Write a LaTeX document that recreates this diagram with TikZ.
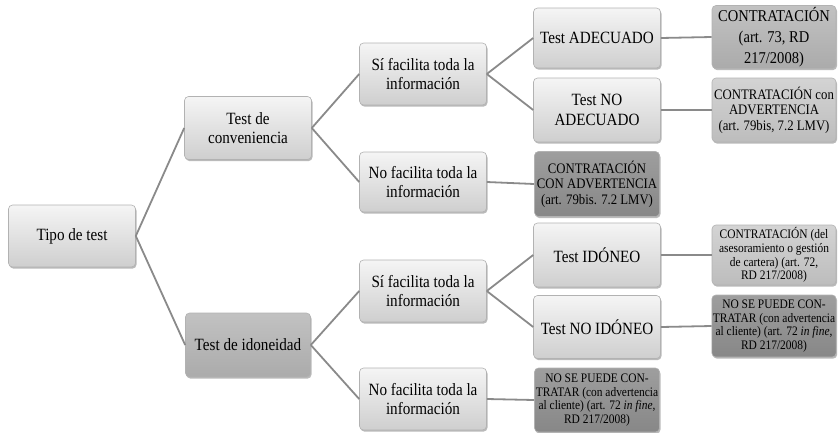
\documentclass[tikz,border=0pt]{standalone}
\usepackage{fontspec}
\setmainfont{Liberation Serif}[FakeStretch=0.88]
\usepackage{tikz}
\usetikzlibrary{shadows, positioning}
\definecolor{linkgray}{HTML}{8A8A8A}
\tikzstyle{basebox} = [rectangle, rounded corners=4pt, align=center, inner sep=1pt, minimum width=127pt, minimum height=62pt, draw=black!30, line width=0.6pt, drop shadow={shadow xshift=1pt, shadow yshift=-1.6pt, fill=black!45, opacity=0.6}, font=\fontsize{17.2}{19.5}\selectfont]
\tikzstyle{lightbox} = [basebox, top color=black!4, bottom color=black!19]
\tikzstyle{midbox} = [basebox, top color=black!24, bottom color=black!33]
\tikzstyle{softbox} = [basebox, top color=black!17, bottom color=black!26]
\tikzstyle{darkbox} = [basebox, top color=black!38, bottom color=black!47]
\tikzstyle{link} = [linkgray, line width=1.8pt]
\newcommand{\smalltxt}{\fontsize{13}{13.8}\selectfont}
\newcommand{\midtxt}{\fontsize{14.5}{15.5}\selectfont}

\begin{document}
\begin{tikzpicture}[x=1pt, y=-1pt]
        \useasboundingbox (0,0) rectangle (838,432);
        % Nodes
        \node [lightbox] (tipo) at (72,236) {Tipo de test};
        \node [lightbox, minimum height=63pt] (conv) at (248,128) {Test de\\conveniencia};
        \node [midbox, minimum width=125pt, minimum height=64pt] (idon) at (248,345) {Test de idoneidad};

        \node [lightbox] (si_conv) at (423,74) {Sí facilita toda la\\información};
        \node [lightbox, minimum height=60pt] (no_conv) at (423,182) {No facilita toda la\\información};
        \node [lightbox] (si_idon) at (423,291) {Sí facilita toda la\\información};
        \node [lightbox] (no_idon) at (423,399) {No facilita toda la\\información};

        \node [lightbox, minimum height=60pt] (adec) at (597,38) {Test ADECUADO};
        \node [lightbox, minimum height=64pt] (no_adec) at (597,110) {Test NO\\ADECUADO};
        \node [darkbox, minimum width=125pt, minimum height=65pt, font=\midtxt] (con_adv) at (597,184) {CONTRATACIÓN\\CON ADVERTENCIA\\(art. 79bis. 7.2 LMV)};
        \node [lightbox, minimum height=64pt] (idoneo) at (597,255) {Test IDÓNEO};
        \node [lightbox, minimum height=63pt] (no_idoneo) at (597,327) {Test NO IDÓNEO};
        \node [darkbox, minimum width=125pt, minimum height=64pt, font=\smalltxt] (no_puede) at (597,400) {NO SE PUEDE CON-\\TRATAR (con advertencia\\al cliente) (art. 72 \textit{in fine},\\RD 217/2008)};

        \node [midbox, minimum width=124pt, minimum height=63pt, font=\fontsize{16.5}{21}\selectfont] (contr73) at (774,37) {CONTRATACIÓN\\(art. 73, RD\\217/2008)};
        \node [softbox, minimum width=124pt, minimum height=64pt, font=\midtxt] (contr_adv) at (774,110) {CONTRATACIÓN con\\ADVERTENCIA\\(art. 79bis, 7.2 LMV)};
        \node [softbox, minimum width=124pt, minimum height=60pt, font=\smalltxt] (contr72) at (774,255) {CONTRATACIÓN (del\\asesoramiento o gestión\\de cartera) (art. 72,\\RD 217/2008)};
        \node [darkbox, minimum width=124pt, minimum height=62pt, font=\smalltxt] (no_puede2) at (774,326) {NO SE PUEDE CON-\\TRATAR (con advertencia\\al cliente) (art. 72 \textit{in fine},\\RD 217/2008)};

        % Connectors
        \draw [link] (tipo.east) -- (conv.west);
        \draw [link] (tipo.east) -- (idon.west);
        \draw [link] (conv.east) -- (si_conv.west);
        \draw [link] (conv.east) -- (no_conv.west);
        \draw [link] (idon.east) -- (si_idon.west);
        \draw [link] (idon.east) -- (no_idon.west);
        \draw [link] (si_conv.east) -- (adec.west);
        \draw [link] (si_conv.east) -- (no_adec.west);
        \draw [link] (no_conv.east) -- (con_adv.west);
        \draw [link] (si_idon.east) -- (idoneo.west);
        \draw [link] (si_idon.east) -- (no_idoneo.west);
        \draw [link] (no_idon.east) -- (no_puede.west);
        \draw [link] (adec.east) -- (contr73.west);
        \draw [link] (no_adec.east) -- (contr_adv.west);
        \draw [link] (idoneo.east) -- (contr72.west);
        \draw [link] (no_idoneo.east) -- (no_puede2.west);
    \end{tikzpicture}
\end{document}
